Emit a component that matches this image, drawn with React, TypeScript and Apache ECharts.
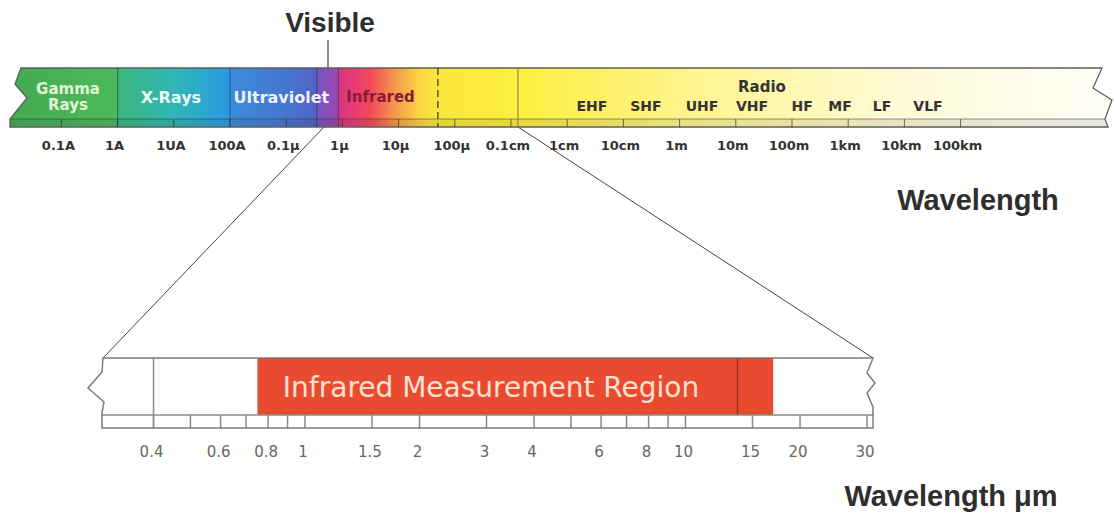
import React, { useEffect, useRef } from "react";
import * as echarts from "echarts";

// ---------- Top scale: electromagnetic spectrum, wavelength in metres ----------
const spectrumExtent = [1.217e-12, 4.196e7];
const spectrumTicks = [1e-11, 1e-10, 1e-9, 1e-8, 1e-7, 1e-6, 1e-5, 1e-4, 1e-3, 1e-2, 1e-1, 1, 10, 100, 1e3, 1e4, 1e5];
const spectrumTickLabels = ["0.1A", "1A", "1UA", "100A", "0.1μ", "1μ", "10μ", "100μ", "0.1cm", "1cm", "10cm", "1m", "10m", "100m", "1km", "10km", "100km"];
const spectrumColorAt = [1.217e-12, 9e-11, 1.1e-10, 1e-9, 9e-9, 1.1e-8, 1e-7, 3.3e-7, 3.6e-7, 8.2e-7, 8.8e-7, 1.6e-6, 3.2e-6, 8.5e-6, 2.4e-5, 5e-5, 1.3e-3, 1, 1e4, 4.196e7];
const spectrumColors = ["#45aa50", "#4db95b", "#3cb77e", "#30b6b6", "#2a9be0", "#3b8bd8", "#4676d0", "#5262c6", "#7455bd", "#9c48b2", "#d4387e", "#e83c72", "#f04a58", "#f5984a", "#fbd542", "#fbe73c", "#fdee40", "#fff489", "#fffbd9", "#fffef6"];
const bandEdges = [1e-10, 1e-8, 3.5e-7, 8.5e-7];
const infraredEdge = 5e-5;
const microwaveEdge = 1.33e-3;
const bandNames = ["Gamma\nRays", "X-Rays", "Ultraviolet", "Infrared"];
const bandLabelAt = [1.31e-11, 8.9e-10, 8.2e-8, 4.77e-6];
const radioName = "Radio";
const radioLabelAt = 29.2;
const radioBands = ["EHF", "SHF", "UHF", "VHF", "HF", "MF", "LF", "VLF"];
const radioBandAt = [0.0276, 0.252, 2.51, 19.4, 151, 715, 3990, 26300];

// ---------- Bottom scale: infrared measurement region, wavelength in μm ----------
const irExtent = [0.2946, 31.1];
const irTicks = [0.4, 0.5, 0.6, 0.7, 0.8, 0.9, 1, 1.5, 2, 3, 4, 5, 6, 7, 8, 9, 10, 15, 20, 30];
const irTickLabels = [0.4, 0.6, 0.8, 1, 1.5, 2, 3, 4, 6, 8, 10, 15, 20, 30];
const visibleLimit = 0.4;
const measurementRegion = [0.75, 17];
const measurementSplit = 13.7;

// ---------- styles ----------
const FONT = "'DejaVu Sans', 'Liberation Sans', sans-serif";
const TITLE_FONT = "'Liberation Sans', Arial, sans-serif";
const bandLabelColors = ["#e2f4d6", "#ecfaf4", "#eef2ff", "#8b1a3a"];
const bandLabelSizes = [15, 16, 16, 15];

const lineEl = (x1: number, y1: number, x2: number, y2: number, stroke: string, lineWidth = 1, lineDash?: number[]) => ({
  type: "line",
  shape: { x1, y1, x2, y2 },
  style: { stroke, lineWidth, lineDash },
});

const textEl = (x: number, y: number, text: string, fill: string, fontSize: number, extra: any = {}) => ({
  type: "text",
  x,
  y,
  style: {
    text,
    fill,
    fontSize,
    fontFamily: FONT,
    align: "center",
    verticalAlign: "middle",
    textAlign: "center",
    textVerticalAlign: "middle",
    ...extra,
  },
});

const titleEl = (x: number, y: number, text: string, fontSize: number, extra: any = {}) => ({
  type: "text",
  x,
  y,
  style: {
    text,
    fill: "#2e2e2e",
    fontSize,
    fontWeight: "bold",
    fontFamily: TITLE_FONT,
    align: "center",
    verticalAlign: "middle",
    textAlign: "center",
    textVerticalAlign: "middle",
    ...extra,
  },
});

const box = (params: any) => {
  const cs = params.coordSys;
  return { x0: cs.x, x1: cs.x + cs.width, y0: cs.y, y1: cs.y + cs.height };
};

const clamp = (v: number) => Math.max(0, Math.min(1, v));

const TOP = { xAxisIndex: 0, yAxisIndex: 0 };
const BOT = { xAxisIndex: 1, yAxisIndex: 1 };
const TOP_STRIP = 8;
const BOT_STRIP = 13;

function buildOption() {
  const series: any[] = [];

  // spectrum body with gradient
  series.push({
    type: "custom", ...TOP, silent: true,
    data: [[spectrumExtent[0], 0.5]],
    renderItem: (params: any, api: any) => {
      const { x0, x1, y0, y1 } = box(params);
      const st = y1 - TOP_STRIP;
      const px = (v: number) => api.coord([v, 0.5])[0];
      const stops = spectrumColorAt.map((v, i) => ({ offset: clamp((px(v) - x0) / (x1 - x0)), color: spectrumColors[i] }));
      const grad = new echarts.graphic.LinearGradient(x0, 0, x1, 0, stops, true);
      const outline = [
        [x0 + 11, y0], [x1 - 6, y0], [x1 - 15, y0 + 20], [x1 + 4, y0 + 32], [x1 - 3, st], [x1, y1],
        [x0, y1], [x0, st], [x0 + 17, y0 + 30], [x0 + 5, y0 + 16],
      ];
      return {
        type: "group",
        children: [
          { type: "polygon", shape: { points: outline }, style: { fill: grad, stroke: "none" } },
          { type: "polygon", shape: { points: [[x0, st], [x1 - 3, st], [x1, y1], [x0, y1]] }, style: { fill: "rgba(40,40,40,0.10)" } },
          lineEl(x0, st, x1 - 3, st, "rgba(60,60,60,0.55)", 1),
          { type: "polygon", shape: { points: outline }, style: { fill: "none", stroke: "#5e5e5e", lineWidth: 1.3 } },
        ],
      };
    },
  });

  // band boundaries
  series.push({
    type: "custom", ...TOP, silent: true,
    data: bandEdges.map((v) => [v, 0.5]),
    renderItem: (params: any, api: any) => {
      const { y0, y1 } = box(params);
      const x = api.coord([api.value(0), 0.5])[0];
      return lineEl(x, y0, x, y1, "rgba(20,40,70,0.45)", 1.2);
    },
  });

  // infrared / microwave edges
  series.push({
    type: "custom", ...TOP, silent: true,
    data: [[infraredEdge, 0.5]],
    renderItem: (params: any, api: any) => {
      const { y0, y1 } = box(params);
      const x = api.coord([api.value(0), 0.5])[0];
      return lineEl(x, y0, x, y1, "#3a3a3a", 1.3, [7, 4]);
    },
  });
  series.push({
    type: "custom", ...TOP, silent: true,
    data: [[microwaveEdge, 0.5]],
    renderItem: (params: any, api: any) => {
      const { y0, y1 } = box(params);
      const x = api.coord([api.value(0), 0.5])[0];
      return lineEl(x, y0, x, y1, "#8c8a55", 1.2);
    },
  });

  // decade ticks
  series.push({
    type: "custom", ...TOP, silent: true,
    data: spectrumTicks.map((v) => [v, 0.5]),
    renderItem: (params: any, api: any) => {
      const { y1 } = box(params);
      const x = api.coord([api.value(0), 0.5])[0];
      return lineEl(x, y1 - TOP_STRIP, x, y1, "rgba(50,50,50,0.7)", 1);
    },
  });

  // decade labels
  series.push({
    type: "custom", ...TOP, silent: true,
    data: spectrumTicks.map((v) => [v, 0.5]),
    renderItem: (params: any, api: any) => {
      const { y1 } = box(params);
      const x = api.coord([api.value(0), 0.5])[0];
      return textEl(x - 3, y1 + 18, spectrumTickLabels[params.dataIndex], "#333", 13, { fontWeight: "bold" });
    },
  });

  // band labels
  series.push({
    type: "custom", ...TOP, silent: true,
    data: bandLabelAt.map((v) => [v, 0.5]),
    renderItem: (params: any, api: any) => {
      const { y0 } = box(params);
      const x = api.coord([api.value(0), 0.5])[0];
      const i = params.dataIndex;
      return textEl(x, y0 + 29, bandNames[i], bandLabelColors[i], bandLabelSizes[i], { fontWeight: "bold", lineHeight: 16 });
    },
  });

  // radio labels
  series.push({
    type: "custom", ...TOP, silent: true,
    data: [[radioLabelAt, 0.5]],
    renderItem: (params: any, api: any) => {
      const { y0 } = box(params);
      const x = api.coord([api.value(0), 0.5])[0];
      return textEl(x, y0 + 19, radioName, "#333", 15, { fontWeight: "bold" });
    },
  });
  series.push({
    type: "custom", ...TOP, silent: true,
    data: radioBandAt.map((v) => [v, 0.5]),
    renderItem: (params: any, api: any) => {
      const { y0 } = box(params);
      const x = api.coord([api.value(0), 0.5])[0];
      return textEl(x, y0 + 38, radioBands[params.dataIndex], "#333", 14, { fontWeight: "bold" });
    },
  });

  // ---------- bottom bar ----------
  const botOutline = (x0: number, x1: number, y0: number, y1: number) => [
    [x0, y0], [x1, y0], [x1 - 6, y0 + 15], [x1 + 2, y0 + 25], [x1 - 6, y0 + 35], [x1, y0 + 49], [x1, y1],
    [x0 - 1, y1], [x0 - 1, y0 + 55], [x0 + 1, y0 + 44], [x0 - 15, y0 + 30], [x0 - 1, y0 + 14],
  ];

  series.push({
    type: "custom", ...BOT, silent: true,
    data: [[irExtent[0], 0.5]],
    renderItem: (params: any) => {
      const { x0, x1, y0, y1 } = box(params);
      return { type: "polygon", shape: { points: botOutline(x0, x1, y0, y1) }, style: { fill: "#fff", stroke: "none" } };
    },
  });

  // measurement region
  series.push({
    type: "custom", ...BOT, silent: true,
    data: [[measurementRegion[0], measurementRegion[1]]],
    renderItem: (params: any, api: any) => {
      const { y0, y1 } = box(params);
      const xa = api.coord([api.value(0), 0.5])[0];
      const xb = api.coord([api.value(1), 0.5])[0];
      return { type: "rect", shape: { x: xa, y: y0, width: xb - xa, height: y1 - BOT_STRIP - y0 }, style: { fill: "#e94b31" } };
    },
  });
  series.push({
    type: "custom", ...BOT, silent: true,
    data: [[measurementSplit, 0.5]],
    renderItem: (params: any, api: any) => {
      const { y0, y1 } = box(params);
      const x = api.coord([api.value(0), 0.5])[0];
      return lineEl(x, y0, x, y1 - BOT_STRIP, "#9c2f1f", 1.5);
    },
  });
  series.push({
    type: "custom", ...BOT, silent: true,
    data: [[visibleLimit, 0.5]],
    renderItem: (params: any, api: any) => {
      const { y0, y1 } = box(params);
      const x = api.coord([api.value(0), 0.5])[0];
      return lineEl(x, y0, x, y1, "#8a8a8a", 1.5);
    },
  });
  series.push({
    type: "custom", ...BOT, silent: true,
    data: irTicks.map((v) => [v, 0.5]),
    renderItem: (params: any, api: any) => {
      const { y1 } = box(params);
      const x = api.coord([api.value(0), 0.5])[0];
      return lineEl(x, y1 - BOT_STRIP, x, y1, "#8a8a8a", 1.5);
    },
  });
  series.push({
    type: "custom", ...BOT, silent: true,
    data: irTickLabels.map((v) => [v, 0.5]),
    renderItem: (params: any, api: any) => {
      const { y1 } = box(params);
      const x = api.coord([api.value(0), 0.5])[0];
      return textEl(x - 2, y1 + 24, String(irTickLabels[params.dataIndex]), "#666", 15);
    },
  });
  series.push({
    type: "custom", ...BOT, silent: true,
    data: [[irExtent[0], 0.5]],
    renderItem: (params: any) => {
      const { x0, x1, y0, y1 } = box(params);
      const st = y1 - BOT_STRIP;
      return {
        type: "group",
        children: [
          lineEl(x0 - 1, st, x1, st, "#8a8a8a", 1.5),
          { type: "polygon", shape: { points: botOutline(x0, x1, y0, y1) }, style: { fill: "none", stroke: "rgba(110,110,110,0.9)", lineWidth: 1.5 } },
        ],
      };
    },
  });

  return {
    animation: false,
    backgroundColor: "#fff",
    grid: [
      { left: 10, width: 1098, top: 68, height: 59 },
      { left: 103, width: 770, top: 358, height: 70 },
    ],
    xAxis: [
      { type: "log", gridIndex: 0, logBase: 10, min: spectrumExtent[0], max: spectrumExtent[1], show: false },
      { type: "log", gridIndex: 1, logBase: 10, min: irExtent[0], max: irExtent[1], show: false },
    ],
    yAxis: [
      { type: "value", gridIndex: 0, min: 0, max: 1, show: false },
      { type: "value", gridIndex: 1, min: 0, max: 1, show: false },
    ],
    graphic: [
      titleEl(330, 22, "Visible", 28),
      { type: "line", shape: { x1: 328, y1: 40, x2: 328, y2: 68 }, style: { stroke: "#444", lineWidth: 1.2 } },
      { type: "line", shape: { x1: 324, y1: 127, x2: 103, y2: 358 }, style: { stroke: "#444", lineWidth: 1 } },
      { type: "line", shape: { x1: 518, y1: 127, x2: 873, y2: 358 }, style: { stroke: "#444", lineWidth: 1 } },
      titleEl(978, 200, "Wavelength", 29),
      titleEl(951, 496, "Wavelength μm", 29),
      { type: "text", x: 491, y: 387, z: 100, style: { text: "Infrared Measurement Region", fill: "#fde2d2", fontSize: 28, fontFamily: FONT, align: "center", verticalAlign: "middle", textAlign: "center", textVerticalAlign: "middle" } },
    ],
    series,
  };
}

export default function App() {
  const ref = useRef<HTMLDivElement>(null);
  useEffect(() => {
    if (!ref.current) return;
    const chart = echarts.init(ref.current, null, { renderer: "svg" });
    chart.setOption(buildOption() as any);
    return () => chart.dispose();
  }, []);
  return (
    <div
      ref={ref}
      style={{ position: "fixed", left: 0, top: 0, width: 1114, height: 516, background: "#fff" }}
    />
  );
}
